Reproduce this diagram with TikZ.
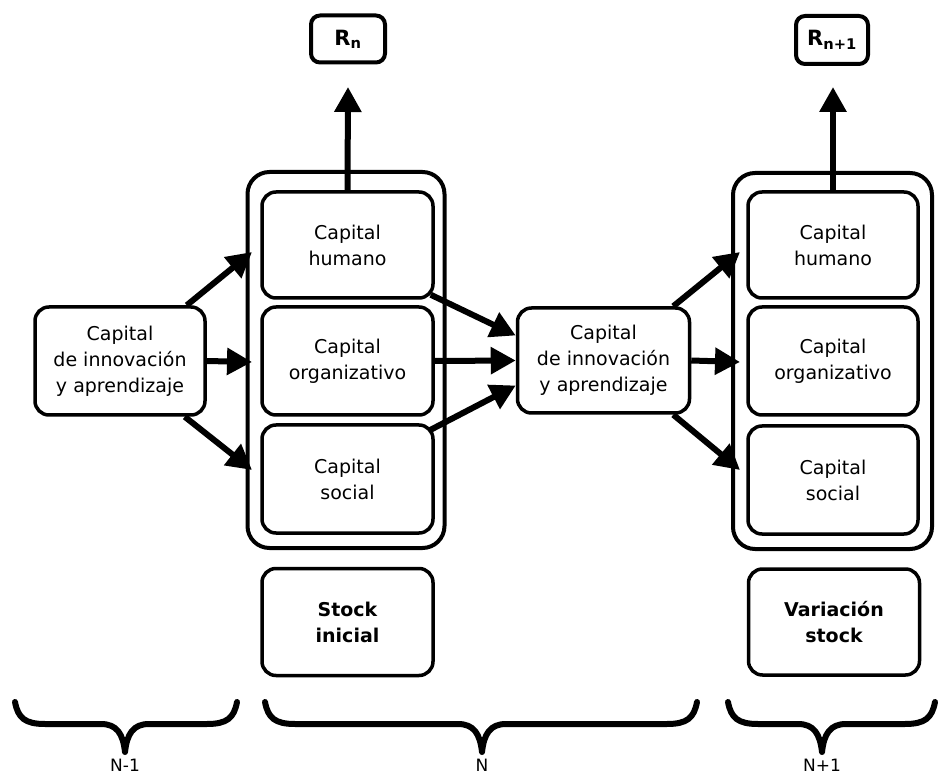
\documentclass[tikz,border=0pt]{standalone}
\usepackage{fontspec}
\setmainfont{DejaVu Sans}
\usetikzlibrary{arrows.meta,calc}

\tikzset{
  inner/.style={draw, line width=3.5pt, rounded corners=14pt, align=center,
    font=\fontsize{19}{26}\selectfont, inner sep=0pt},
  outer/.style={draw, line width=4pt, rounded corners=22pt, inner sep=0pt},
  resbox/.style={draw, line width=4pt, rounded corners=9pt, inner sep=0pt,
    font=\fontsize{21}{24}\selectfont\bfseries},
  flow/.style={line width=6pt, -{Triangle[length=25pt,width=26pt]}},
  bracepath/.style={line width=6pt, line cap=round, line join=round},
  period/.style={font=\fontsize{17}{20}\selectfont}
}

\begin{document}
\begin{tikzpicture}[x=1pt, y=-1pt]
  \useasboundingbox (0,0) rectangle (940,775);
  \fill[white] (0,0) rectangle (940,775);

  % period N-1
  \node[inner, minimum width=170pt, minimum height=108pt] (ciaA) at (120,361)
    {Capital\\de innovación\\y aprendizaje};

  % period N
  \node[outer, minimum width=197pt, minimum height=376pt] (outN) at (346,360) {};
  \node[inner, minimum width=171pt, minimum height=106pt] (humN) at (347.5,245) {Capital\\humano};
  \node[inner, minimum width=171pt, minimum height=108pt] (orgN) at (347.5,361) {Capital\\organizativo};
  \node[inner, minimum width=171pt, minimum height=108pt] (socN) at (347.5,479) {Capital\\social};
  \node[resbox, minimum width=74pt, minimum height=47pt] (resN) at (348,39) {R\textsubscript{n}};
  \node[inner, minimum width=171pt, minimum height=107pt, font=\fontsize{19}{26}\selectfont\bfseries]
    (stockN) at (347.5,622) {Stock\\inicial};

  % middle learning capital
  \node[inner, minimum width=172pt, minimum height=105pt] (ciaB) at (603.5,360.5)
    {Capital\\de innovación\\y aprendizaje};

  % period N+1
  \node[outer, minimum width=199pt, minimum height=376pt] (outM) at (832.5,361) {};
  \node[inner, minimum width=170pt, minimum height=106pt] (humM) at (833,245) {Capital\\humano};
  \node[inner, minimum width=170pt, minimum height=108pt] (orgM) at (833,361) {Capital\\organizativo};
  \node[inner, minimum width=170pt, minimum height=108pt] (socM) at (833,480) {Capital\\social};
  \node[resbox, minimum width=72pt, minimum height=48pt] (resM) at (832,40) {R\textsubscript{n+1}};
  \node[inner, minimum width=171pt, minimum height=106pt, font=\fontsize{19}{26}\selectfont\bfseries]
    (stockM) at (834,622) {Variación\\stock};

  % arrow targets on the outer frames
  \coordinate (aTop) at (252,252);
  \coordinate (aMid) at (252,362);
  \coordinate (aBot) at (252,470);
  \coordinate (cTop) at (740,252);
  \coordinate (cMid) at (740,362);
  \coordinate (cBot) at (740,470);
  \coordinate (upN) at (348,87);
  \coordinate (upM) at (833,87);

  % flows
  \draw[flow] ($(ciaA.north east)+(-20,0)$) -- (aTop);
  \draw[flow] (ciaA.east) -- (aMid);
  \draw[flow] ($(ciaA.south east)+(-22,0)$) -- (aBot);

  \draw[flow] ($(humN.south east)+(-4,-5)$) -- ($(ciaB.west)+(0,-25)$);
  \draw[flow] (orgN.east) -- (ciaB.west);
  \draw[flow] ($(socN.north east)+(-5,7)$) -- ($(ciaB.west)+(0,25)$);

  \draw[flow] ($(ciaB.north east)+(-18,0)$) -- (cTop);
  \draw[flow] (ciaB.east) -- (cMid);
  \draw[flow] ($(ciaB.south east)+(-18,0)$) -- (cBot);

  \draw[flow] (humN.north) -- (upN);
  \draw[flow] (humM.north) -- (upM);

  % period braces
  \foreach \a/\m/\b/\lab/\nm in {15/125/237/N-1/pA, 265/482/697/N/pB, 728/822/935/N+1/pC} {
    \draw[bracepath] (\a,702) .. controls ({\a+3},718) and ({\a+10},724) .. ({\a+30},724)
      -- ({\m-24},724) .. controls ({\m-8},724) and ({\m-2},734) .. (\m,752)
      .. controls ({\m+2},734) and ({\m+8},724) .. ({\m+24},724)
      -- ({\b-30},724) .. controls ({\b-10},724) and ({\b-3},718) .. (\b,702);
    \node[period] (\nm) at (\m,765) {\lab};
  }
\end{tikzpicture}
\end{document}
